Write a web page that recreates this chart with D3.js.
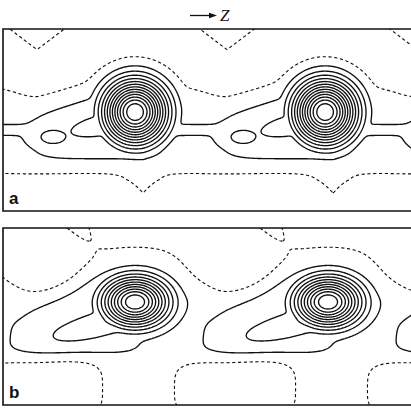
<!DOCTYPE html>
<html><head><meta charset="utf-8">
<script src="https://cdn.jsdelivr.net/npm/d3@7"></script>
<style>body{margin:0;background:#fff}svg{display:block}</style>
</head><body>
<svg id="chart" width="411" height="408"></svg>
<script>
// ================= DATA (lengths in wavelengths λ; y measured down from panel top) =================
const aZRange = [0, 2.147];     // streamwise extent shown, panel a (λ)
const aYRange = [0, 0.958];     // transverse extent, panel a
const bZRange = [0, 2.114];     // panel b
const bYRange = [0, 0.917];

// Panel a : field pieces combined by a smooth maximum (periodic in z, period 1 λ)
const aBand  = [{y:0.526, base:-0.6, amp:1.93, sUp:0.144, sDown:0.195}];
const aCores = [{z:0.695, y:0.437, base:-0.6, amp:14.6, sz:0.116, sy:0.116}];
const aTails = [{z:0.500, y:0.589, base:-0.6, amp:2.2,  sz:0.368, sy:0.105, pu:4, pv:4, tilt:0},
                {z:0.395, y:0.474, base:-0.6, amp:2.2,  sz:0.316, sy:0.105, pu:4, pv:2, tilt:-17.5},
                {z:0.553, y:0.500, base:-0.6, amp:3.2,  sz:0.305, sy:0.084, pu:2, pv:2, tilt:-12}];
const aBumps = [{z:0.263, y:0.568, base:-0.6, amp:2.9,  sz:0.137, sy:0.074}];
const aWedges = [{z:0.179, y:-0.026, amp:-2.1, sz:0.155, sy:0.121},
                 {z:0.737, y:0.789,  amp:0.5,  sz:0.047, sy:0.080}];
const aSolidLevels  = [1,2,3,4,5,6,7,8,9,10,11,12,13];
const aDashedLevels = [-1, 0];

// Panel b
const bBackground = [0.4];
const bCores = [{z:0.684, y:0.383, base:0, amp:12,  sz:0.119, sy:0.088}];
const bTails = [{z:0.389, y:0.560, base:0, amp:1.6, sz:0.311, sy:0.088, pu:4, pv:4, tilt:0},
                {z:0.337, y:0.399, base:0, amp:1.6, sz:0.311, sy:0.104, pu:4, pv:2, tilt:-34},
                {z:0.518, y:0.492, base:0, amp:2.9, sz:0.301, sy:0.073, pu:2, pv:2, tilt:-15}];
const bChannels = [{z:0.399, y:0.000, base:0, amp:1.0, sz:0.155, sy:0.052, tilt:50}];
const bHollows = [{z:0.762, y:-0.052, amp:-1.12, sz:0.300, sy:0.130, pu:6, pv:2},
                  {z:1.218, y:0.155,  amp:-1.9,  sz:0.161, sy:0.130},
                  {z:1.202, y:0.829,  amp:-1.2,  sz:0.285, sy:0.130, pu:4, pv:4}];
const bSolidLevels  = [1,2,3,4,5,6,7,8,9,10,11];
const bDashedLevels = [0];

const panelLabels = ["a", "b"];
const axisLabel = "Z";

// ================= FIELD =================
function prep(c) {
  const t = (c.tilt || 0) * Math.PI / 180;
  return {...c, ct:Math.cos(t), st:Math.sin(t), pu:c.pu||2, pv:c.pv||2};
}
function kernel(c, z, y) {
  let s = 0;
  for (let k = -2; k <= 3; k++) {
    const dz = z - (c.z + k), dy = y - c.y;
    if (Math.abs(dz) > 1.1) continue;
    const u = dz*c.ct + dy*c.st, v = -dz*c.st + dy*c.ct;
    s += Math.exp(-0.5*(Math.pow(Math.abs(u/c.sz), c.pu) + Math.pow(Math.abs(v/c.sy), c.pv)));
  }
  return s;
}
function wedge(c, z, y) {
  let s = 0;
  for (let k = -2; k <= 3; k++) {
    const dz = z - (c.z + k), dy = y - c.y;
    if (Math.abs(dz) > 1.1) continue;
    s += Math.exp(-(Math.abs(dz)/c.sz + Math.abs(dy)/c.sy));
  }
  return s;
}
function makeField(p) {
  const pieces = p.pieces.map(prep), adds = p.adds.map(prep), K = p.smooth;
  return (z, y) => {
    const vals = [];
    for (const b of p.bg) vals.push(b);
    for (const b of p.bands) {
      const d = y - b.y, s = d < 0 ? b.sUp : b.sDown;
      vals.push(b.base + b.amp*Math.exp(-Math.hypot(d, 0.012)/s));
    }
    for (const c of pieces) vals.push(c.base + c.amp*kernel(c, z, y));
    const m = Math.max(...vals);
    let s = 0;
    for (const v of vals) s += Math.exp((v - m)/K);
    let f = m + K*Math.log(s);
    for (const c of adds) f += c.amp*kernel(c, z, y);
    for (const c of p.wedges) f += c.amp*wedge(c, z, y);
    return f;
  };
}

// ================= LAYOUT =================
const svg = d3.select("#chart");
const panels = [
  {label:panelLabels[0], x0:3, x1:411, y0:29, y1:211, zRange:aZRange, yRange:aYRange, smooth:0.15,
   bg:[], bands:aBand, pieces:[...aCores, ...aTails, ...aBumps], adds:[], wedges:aWedges,
   solid:aSolidLevels, dashed:aDashedLevels},
  {label:panelLabels[1], x0:3, x1:411, y0:228, y1:405, zRange:bZRange, yRange:bYRange, smooth:0.25,
   bg:bBackground, bands:[], pieces:[...bCores, ...bTails, ...bChannels], adds:bHollows, wedges:[],
   solid:bSolidLevels, dashed:bDashedLevels}
];

panels.forEach((p, pi) => {
  const x = d3.scaleLinear().domain(p.zRange).range([p.x0, p.x1]);
  const y = d3.scaleLinear().domain(p.yRange).range([p.y0, p.y1]);
  const pad = 4, step = 1;
  const gx0 = p.x0 - pad, gy0 = p.y0 - pad;
  const nx = Math.ceil((p.x1 - p.x0 + 2*pad)/step) + 1;
  const ny = Math.ceil((p.y1 - p.y0 + 2*pad)/step) + 1;
  const f = makeField(p);
  const values = new Float64Array(nx*ny);
  for (let j = 0; j < ny; j++) {
    const yy = y.invert(gy0 + j*step);
    for (let i = 0; i < nx; i++) values[j*nx + i] = f(x.invert(gx0 + i*step), yy);
  }
  const proj = d3.geoTransform({point(gx, gy) {
    const z = x.invert(gx0 + (gx - 0.5)*step), yy = y.invert(gy0 + (gy - 0.5)*step);
    this.stream.point(x(z), y(yy));
  }});
  const path = d3.geoPath(proj);
  const clipId = "clip" + pi;
  svg.append("clipPath").attr("id", clipId).append("rect")
    .attr("x", p.x0).attr("y", p.y0).attr("width", p.x1 - p.x0).attr("height", p.y1 - p.y0);
  const g = svg.append("g").attr("clip-path", `url(#${clipId})`);
  const solid = d3.contours().size([nx, ny]).thresholds(p.solid)(values);
  const dashed = d3.contours().size([nx, ny]).thresholds(p.dashed)(values);
  g.selectAll("path.solid").data(solid).join("path").attr("class","solid")
    .attr("d", path).attr("fill","none").attr("stroke","#111").attr("stroke-width",1.35);
  g.selectAll("path.dashed").data(dashed).join("path").attr("class","dashed")
    .attr("d", path).attr("fill","none").attr("stroke","#111").attr("stroke-width",1.1)
    .attr("stroke-dasharray","3.2,2.6");
  svg.append("path").attr("d", `M${p.x1},${p.y0}H${p.x0}V${p.y1}H${p.x1}`)
    .attr("fill","none").attr("stroke","#111").attr("stroke-width",1.6);
  svg.append("text").attr("x", p.x0 + 6).attr("y", p.y1 - 7)
    .attr("font-family","Liberation Sans, Arial, sans-serif").attr("font-size",17)
    .attr("font-weight","bold").attr("fill","#111").text(p.label);
});

// streamwise direction arrow
svg.append("line").attr("x1",190).attr("x2",211).attr("y1",15.5).attr("y2",15.5)
  .attr("stroke","#111").attr("stroke-width",1.3);
svg.append("path").attr("d","M209,12.8L217,15.5L209,18.2Z").attr("fill","#111");
svg.append("text").attr("x",220).attr("y",21)
  .attr("font-family","Liberation Serif, Times New Roman, serif").attr("font-style","italic")
  .attr("font-size",17).attr("fill","#111").text(axisLabel);
</script>
</body></html>
